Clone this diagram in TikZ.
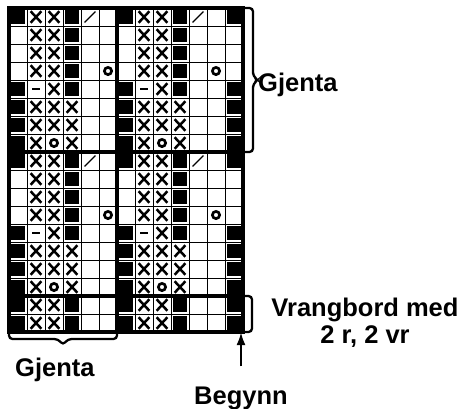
\documentclass[tikz,border=0pt]{standalone}
\usepackage{fontspec}
\setmainfont{Liberation Sans}
\usepackage{tikz}
\usetikzlibrary{arrows.meta,positioning}
\tikzset{
    rute/.style={line width=0.9pt},
    ramme/.style={line width=3.6pt},
    klamme/.style={line width=2.3pt, rounded corners=3.5pt},
    pil/.style={-{Latex[length=13pt,width=9pt]}, line width=2.4pt},
    etikett/.style={font=\bfseries\fontsize{25.5}{27}\selectfont, inner sep=0pt, align=center},
    cellB/.pic={\fill (-0.39,-0.39) rectangle (0.39,0.39);},
    cellX/.pic={\draw[line width=2.5pt] (-0.3,-0.32) -- (0.3,0.32) (-0.3,0.32) -- (0.3,-0.32);},
    cellO/.pic={\draw[line width=2.7pt] (0,0) circle (0.2);},
    cellS/.pic={\draw[line width=1.4pt] (-0.3,0.3) -- (0.3,-0.3);},
    cellD/.pic={\draw[line width=1.9pt] (-0.22,0) -- (0.22,0);},
    cellE/.pic={}
}

\begin{document}
\begin{tikzpicture}[x=1pt, y=-1pt]
        \useasboundingbox (0,0) rectangle (460,408);

        % diagrammet, 13 masker x 18 omganger
        \begin{scope}[shift={(9pt,-8pt)}, x=18pt, y=-18pt]
            \foreach \c in {1,...,12} \draw[rute] (\c,0) -- (\c,18);
            \foreach \r in {1,...,17} \draw[rute] (0,\r) -- (13,\r);
            \foreach \rad [count=\r] in {
                {B,X,X,B,S,E,B,X,X,B,S,E,B},
                {E,X,X,B,E,E,E,X,X,B,E,E,E},
                {E,X,X,B,E,E,E,X,X,B,E,E,E},
                {E,X,X,B,E,O,E,X,X,B,E,O,E},
                {B,D,X,B,E,E,B,D,X,B,E,E,B},
                {B,X,X,X,E,E,B,X,X,X,E,E,B},
                {B,X,X,X,E,E,B,X,X,X,E,E,B},
                {B,X,O,X,E,E,B,X,O,X,E,E,B},
                {B,X,X,B,S,E,B,X,X,B,S,E,B},
                {E,X,X,B,E,E,E,X,X,B,E,E,E},
                {E,X,X,B,E,E,E,X,X,B,E,E,E},
                {E,X,X,B,E,O,E,X,X,B,E,O,E},
                {B,D,X,B,E,E,B,D,X,B,E,E,B},
                {B,X,X,X,E,E,B,X,X,X,E,E,B},
                {B,X,X,X,E,E,B,X,X,X,E,E,B},
                {B,X,O,X,E,E,B,X,O,X,E,E,B},
                {B,X,X,B,E,E,B,X,X,B,E,E,B},
                {B,X,X,B,E,E,B,X,X,B,E,E,B}}
                \foreach \tegn [count=\c] in \rad
                    \pic at (\c-0.5,\r-0.5) {cell\tegn};
            \draw[ramme] (0,0) rectangle (13,18);
            \draw[ramme] (6,0) -- (6,18);
            \draw[ramme] (0,8) -- (13,8);
            \draw[ramme] (0,16) -- (13,16);
            \coordinate (hjorne) at (13,18);
        \end{scope}

        % klammer og tekst
        \draw[klamme] (243,8) -- (253,8) -- (253,76) -- (258,80) -- (253,84) -- (253,152) -- (243,152);
        \node[etikett, anchor=base west] (gjentaH) at (258,91) {Gjenta};
        \draw[klamme] (9,332) -- (9,339) -- (58,339) -- (63,345) -- (68,339) -- (117,339) -- (117,332);
        \node[etikett, anchor=base west] (gjentaV) at (15,376) {Gjenta};
        \draw[klamme] (243,296) -- (252,296) -- (252,332) -- (243,332);
        \node[etikett] (vrangbord) at (365,323) {Vrangbord med\\2 r, 2 vr};
        \node[etikett, anchor=base] (begynn) at (241,404) {Begynn};
        \draw[pil, shorten <=20pt] (begynn.north) -- (begynn.north |- hjorne);
    \end{tikzpicture}
\end{document}
